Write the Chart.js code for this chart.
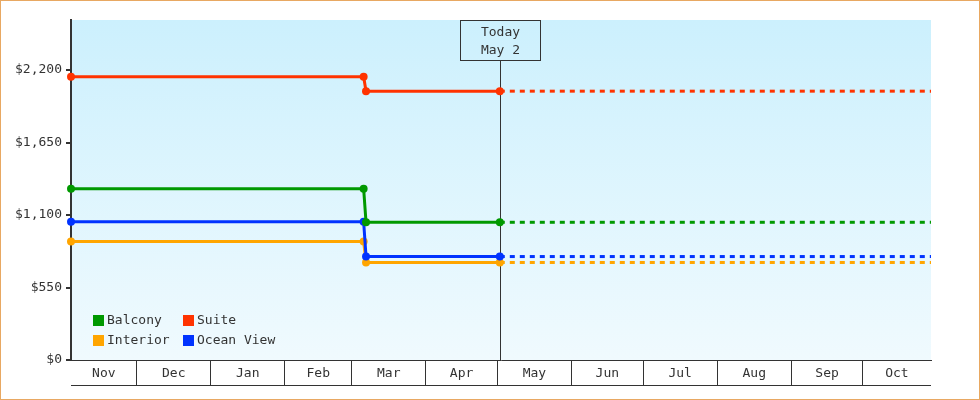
<!DOCTYPE html>
<html>
<head>
<meta charset="utf-8">
<title>Cabin prices</title>
<script src="https://cdn.jsdelivr.net/npm/chart.js@4.4.1/dist/chart.umd.min.js"></script>
<style>
  html, body { margin: 0; padding: 0; background: #fff; }
  #wrap { width: 978px; height: 398px; border: 1px solid #e8a862; position: relative; }
</style>
</head>
<body>
<div id="wrap"><canvas id="prices"></canvas></div>
<script>
// price per cabin type, one value per change date
const seriesNames = ['Balcony', 'Suite', 'Interior', 'Ocean View'];
const seriesColors = ['#009900', '#ff3300', '#ffa500', '#0033ff'];
const changeDates = ['2024-11-03T12:00Z', '2025-03-06T00:00Z', '2025-03-07T00:00Z', '2025-05-02T00:00Z'];
const balcony = [1300, 1300, 1045, 1045];
const suite = [2150, 2150, 2040, 2040];
const interior = [900, 900, 740, 740];
const oceanView = [1050, 1050, 785, 785];

const months = ['Nov', 'Dec', 'Jan', 'Feb', 'Mar', 'Apr', 'May', 'Jun', 'Jul', 'Aug', 'Sep', 'Oct'];
const monthStarts = ['2024-11-01', '2024-12-01', '2025-01-01', '2025-02-01', '2025-03-01', '2025-04-01',
  '2025-05-01', '2025-06-01', '2025-07-01', '2025-08-01', '2025-09-01', '2025-10-01', '2025-11-01'];
const yTicks = [0, 550, 1100, 1650, 2200];

const axisStart = '2024-11-03T12:00Z';
const axisEnd = '2025-10-29T12:00Z';
const todayDate = '2025-05-02T00:00Z';
const todayText = ['Today', 'May 2'];

const FONT = "'DejaVu Sans Mono', 'Liberation Mono', monospace";
const INK = '#333';

function day(s) {
  if (s.length === 10) s += 'T00:00Z';
  return (Date.parse(s) - Date.parse('2024-11-01T00:00Z')) / 864e5;
}

const xMin = day(axisStart), xMax = day(axisEnd), xToday = day(todayDate);

// month boundaries get a tick line, month middles get the name
const labelAt = {};
const xTicks = [];
for (let i = 0; i < months.length; i++) {
  const a = Math.max(day(monthStarts[i]), xMin);
  const b = Math.min(day(monthStarts[i + 1]), xMax);
  const mid = (a + b) / 2;
  labelAt[mid] = months[i];
  if (i > 0) xTicks.push(a);
  xTicks.push(mid);
}

const values = { 'Balcony': balcony, 'Suite': suite, 'Interior': interior, 'Ocean View': oceanView };
const drawOrder = ['Balcony', 'Suite', 'Ocean View', 'Interior'];

const datasets = [];
drawOrder.forEach(name => {
  const col = seriesColors[seriesNames.indexOf(name)];
  const v = values[name];
  datasets.push({
    label: name,
    data: changeDates.map((d, i) => ({ x: day(d), y: v[i] })),
    borderColor: col, backgroundColor: col,
    borderWidth: 3, pointRadius: 4, pointBorderWidth: 0,
    pointBackgroundColor: col, tension: 0, clip: false
  });
});
drawOrder.forEach(name => {
  const col = seriesColors[seriesNames.indexOf(name)];
  const v = values[name];
  datasets.push({
    label: name + ' (forecast)',
    data: [{ x: xToday, y: v[v.length - 1] }, { x: xMax, y: v[v.length - 1] }],
    borderColor: col, borderWidth: 3, borderDash: [5, 5],
    pointRadius: 0, tension: 0
  });
});

const decor = {
  id: 'decor',
  beforeDraw(chart) {
    const { ctx, chartArea: a } = chart;
    const g = ctx.createLinearGradient(0, a.top, 0, a.bottom);
    g.addColorStop(0, '#ccf0fd');
    g.addColorStop(1, '#f0fafe');
    ctx.save();
    ctx.fillStyle = g;
    ctx.fillRect(a.left, a.top, a.right - a.left, a.bottom - a.top);
    ctx.restore();
  },
  beforeDatasetsDraw(chart) {
    const { ctx, chartArea: a, scales: { x } } = chart;
    const px = Math.round(x.getPixelForValue(xToday));
    ctx.save();
    ctx.strokeStyle = INK;
    ctx.lineWidth = 1;
    ctx.strokeRect(px - 40 + 0.5, a.top + 0.5, 80, 40);
    ctx.beginPath();
    ctx.moveTo(px + 0.5, a.top + 40.5);
    ctx.lineTo(px + 0.5, a.bottom);
    ctx.stroke();
    ctx.fillStyle = INK;
    ctx.font = '13px ' + FONT;
    ctx.textAlign = 'center';
    ctx.textBaseline = 'middle';
    ctx.fillText(todayText[0], px + 0.5, a.top + 12.5);
    ctx.fillText(todayText[1], px + 0.5, a.top + 30.5);
    ctx.restore();
  },
  afterDraw(chart) {
    const { ctx, chartArea: a, scales: { x } } = chart;
    ctx.save();
    // bottom edge of the month strip
    ctx.strokeStyle = INK;
    ctx.lineWidth = 1;
    ctx.beginPath();
    ctx.moveTo(a.left, x.top + 25.5);
    ctx.lineTo(a.right, x.top + 25.5);
    ctx.stroke();
    // legend, two columns
    ctx.font = '13px ' + FONT;
    ctx.textBaseline = 'middle';
    ctx.textAlign = 'left';
    seriesNames.forEach((name, i) => {
      const lx = a.left + 22 + (i % 2) * 90;
      const ly = a.bottom - 45 + Math.floor(i / 2) * 20;
      ctx.fillStyle = seriesColors[i];
      ctx.fillRect(lx, ly, 11, 11);
      ctx.fillStyle = INK;
      ctx.fillText(name, lx + 14, ly + 6);
    });
    ctx.restore();
  }
};

new Chart(document.getElementById('prices'), {
  type: 'line',
  data: { datasets: datasets },
  plugins: [decor],
  options: {
    responsive: true,
    maintainAspectRatio: false,
    animation: false,
    devicePixelRatio: 1,
    layout: { padding: { top: 19, right: 48, bottom: 14, left: 0 } },
    plugins: { legend: { display: false }, tooltip: { enabled: false } },
    scales: {
      x: {
        type: 'linear', min: xMin, max: xMax,
        afterBuildTicks: s => { s.ticks = xTicks.map(v => ({ value: v })); },
        afterFit: s => { s.height = 25; },
        grid: {
          drawOnChartArea: false, tickLength: 25, lineWidth: 1,
          color: c => (c.tick && labelAt[c.tick.value] === undefined) ? INK : 'rgba(0,0,0,0)'
        },
        border: { color: INK, width: 1 },
        ticks: {
          autoSkip: false, maxRotation: 0, padding: -19, color: INK,
          font: { family: FONT, size: 13 },
          callback: v => labelAt[v] || ''
        }
      },
      y: {
        min: 0, max: 2580,
        afterBuildTicks: s => { s.ticks = yTicks.map(v => ({ value: v })); },
        afterFit: s => { s.width = 70; },
        grid: { drawOnChartArea: false, tickLength: 5, lineWidth: 2, color: INK },
        border: { color: INK, width: 2 },
        ticks: {
          padding: 4, color: INK,
          font: { family: FONT, size: 13 },
          callback: v => '$' + v.toLocaleString('en-US')
        }
      }
    }
  }
});
</script>
</body>
</html>
